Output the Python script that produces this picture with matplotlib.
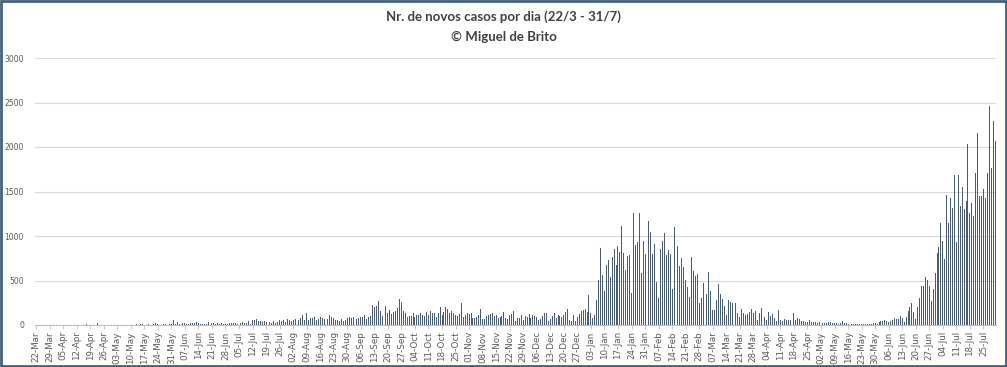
import numpy as np
import pandas as pd
import matplotlib
matplotlib.use('Agg')
import matplotlib.pyplot as plt
from matplotlib.patches import Rectangle

# casos diários, por mês (22/3/2020 - 31/7/2021)
mar_2020 = [1, 0, 0, 0, 0, 2, 0, 0, 0, 2]
abr_2020 = [0, 2, 0, 0, 0, 0, 0, 1, 0, 3, 0, 0, 1, 0, 0, 0, 6, 3, 4, 0,
            3, 0, 18, 2, 3, 0, 2, 3, 1, 1]
mai_2020 = [0, 2, 3, 1, 0, 1, 5, 2, 5, 3, 2, 2, 8, 3, 6, 8, 2, 5, 9, 3,
            0, 7, 20, 10, 5, 5, 11, 6, 4, 8, 12]
jun_2020 = [52, 10, 30, 15, 28, 20, 25, 15, 12, 20, 26, 18, 30, 20, 12, 15, 10, 8, 30, 16,
            22, 18, 14, 20, 12, 18, 10, 15, 10, 18]
jul_2020 = [22, 20, 28, 15, 20, 25, 30, 18, 28, 40, 15, 60, 55, 68, 40, 50, 30, 45, 35, 50,
            30, 25, 42, 20, 35, 55, 40, 60, 35, 65, 55]
ago_2020 = [50, 60, 65, 70, 55, 75, 110, 60, 140, 60, 80, 75, 85, 60, 70, 85, 75, 70, 95, 65,
            110, 90, 80, 60, 55, 45, 70, 50, 55, 75, 90]
set_2020 = [75, 90, 70, 65, 80, 85, 90, 110, 70, 95, 100, 224, 205, 215, 268, 160, 100, 254, 216, 130,
            170, 120, 150, 160, 190, 291, 254, 160, 140, 85]
out_2020 = [100, 105, 130, 95, 110, 115, 138, 110, 100, 149, 110, 160, 130, 140, 90, 140, 198, 110, 145, 205,
            180, 130, 160, 130, 110, 100, 120, 250, 95, 115, 130]
nov_2020 = [120, 135, 80, 80, 95, 110, 179, 70, 70, 100, 110, 120, 130, 100, 110, 80, 90, 100, 142, 80,
            70, 110, 120, 157, 40, 75, 80, 110, 60, 100]
dez_2020 = [90, 120, 80, 110, 100, 90, 60, 70, 100, 138, 130, 40, 70, 100, 130, 80, 110, 100, 90, 110,
            149, 179, 60, 50, 110, 40, 90, 120, 160, 165, 180]
jan_2021 = [150, 340, 130, 80, 110, 280, 511, 862, 567, 384, 675, 727, 540, 765, 850, 679, 884, 820, 1108, 810,
            615, 772, 783, 362, 1264, 895, 930, 1261, 585, 940, 802]
fev_2021 = [790, 1167, 1044, 800, 914, 485, 298, 858, 940, 1037, 783, 847, 802, 410, 1100, 820, 884, 660, 753, 653,
            503, 429, 317, 765, 604, 548, 570, 250]
mar_2021 = [298, 474, 765, 347, 597, 380, 168, 168, 280, 459, 347, 287, 212, 112, 280, 261, 250, 336, 250, 130,
            93, 175, 138, 112, 123, 149, 175, 130, 160, 56, 140]
abr_2021 = [192, 110, 90, 60, 142, 100, 120, 80, 40, 173, 60, 50, 65, 58, 60, 55, 45, 135, 60, 77,
            70, 50, 40, 38, 30, 58, 35, 30, 38, 25]
mai_2021 = [30, 25, 20, 22, 28, 35, 30, 20, 25, 22, 15, 18, 46, 25, 20, 12, 10, 8, 12, 15,
            10, 12, 8, 6, 10, 14, 12, 15, 20, 18, 12]
jun_2021 = [30, 40, 45, 58, 50, 35, 45, 60, 80, 67, 67, 105, 75, 30, 86, 160, 198, 247, 150, 67,
            198, 300, 434, 434, 535, 509, 434, 273, 404, 580]
jul_2021 = [808, 871, 1144, 946, 740, 1458, 1144, 1432, 1320, 1683, 927, 1683, 1339, 1545, 1301, 1395, 2031, 1264, 1369, 1227,
            1705, 2154, 1451, 1451, 1526, 1432, 1705, 2461, 1769, 2293, 2068]

casos = (mar_2020 + abr_2020 + mai_2020 + jun_2020 + jul_2020 + ago_2020 + set_2020 + out_2020
         + nov_2020 + dez_2020 + jan_2021 + fev_2021 + mar_2021 + abr_2021 + mai_2021 + jun_2021 + jul_2021)
datas = pd.date_range('2020-03-22', '2021-07-31', freq='D')
meses = ['Jan', 'Feb', 'Mar', 'Apr', 'May', 'Jun', 'Jul', 'Aug', 'Sep', 'Oct', 'Nov', 'Dec']
rotulos = ['%02d-%s' % (d.day, meses[d.month - 1]) for d in datas[::7]]

cor_texto = '#595959'
cor_barra = '#485c74'

fig = plt.figure(figsize=(10.07, 3.67), dpi=100)
fig.patches.append(Rectangle((0.001, 0.002), 0.998, 0.996, transform=fig.transFigure,
                             fill=False, edgecolor='#44607f', linewidth=2))

ax = fig.add_axes([35 / 1007, 42 / 367, 961 / 1007, 267 / 367])
x = np.arange(len(casos))
ax.bar(x, casos, width=0.5, color=cor_barra, linewidth=0)

ax.set_xlim(-0.5, len(casos) - 0.5)
ax.set_ylim(0, 3000)
ax.set_yticks(range(0, 3001, 500))
ax.set_yticklabels([str(v) for v in range(0, 3001, 500)], fontsize=5.5, color=cor_texto)
ax.set_xticks(x[::7])
ax.set_xticklabels(rotulos, rotation=90, fontsize=6.3, color=cor_texto)
ax.tick_params(axis='y', length=0, pad=8)
ax.tick_params(axis='x', length=3, color='#bfbfbf', width=0.6, pad=1.5)
ax.grid(axis='y', color='#d9d9d9', linewidth=0.8)
ax.set_axisbelow(True)
for lado in ['top', 'right', 'left']:
    ax.spines[lado].set_visible(False)
ax.spines['bottom'].set_color('#bfbfbf')
ax.spines['bottom'].set_linewidth(0.8)

fig.text(0.5, 1 - 17 / 367, 'Nr. de novos casos por dia (22/3 - 31/7)', ha='center', va='center',
         fontsize=9.5, fontweight='bold', color='#404040', family='Lato')
fig.text(0.5, 1 - 37 / 367, '\u00a9 Miguel de Brito', ha='center', va='center',
         fontsize=9.5, fontweight='bold', color='#404040', family='Lato')

fig.savefig('out.png', dpi=100, facecolor='white')
